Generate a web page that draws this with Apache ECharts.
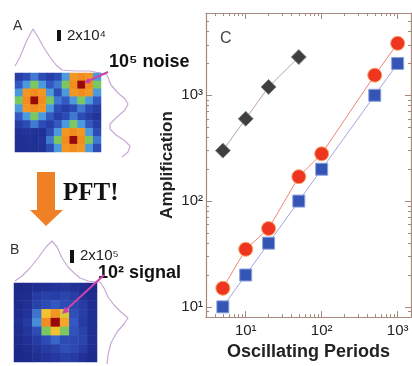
<!DOCTYPE html>
<html>
<head>
<meta charset="utf-8">
<script src="https://cdn.jsdelivr.net/npm/echarts@6/dist/echarts.min.js"></script>
<style>
html, body { margin: 0; padding: 0; background: #fff; }
#main { width: 412px; height: 366px; }
</style>
</head>
<body>
<div id="main"></div>
<script>
// panel C data
const periods = [5, 10, 20, 50, 100, 500, 1000]
const noiseAmp = [300, 600, 1200, 2300]
const redAmp = [15, 35, 55, 170, 280, 1550, 3100]
const blueAmp = [10, 20, 40, 100, 200, 1000, 2000]

const xTickValues = [10, 100, 1000]
const xTickLabels = ['10¹', '10²', '10³']
const yTickValues = [10, 100, 1000]
const yTickLabels = ['10¹', '10²', '10³']
const xMinorTicks = [4, 5, 6, 7, 8, 9, 20, 30, 40, 50, 60, 70, 80, 90, 200, 300, 400, 500, 600, 700, 800, 900]
const yMinorTicks = [9, 20, 30, 40, 50, 60, 70, 80, 90, 200, 300, 400, 500, 600, 700, 800, 900, 2000, 3000, 4000, 5000]

// panel A: 3 noise spots (rows top -> bottom)
const heatA = [
  [1.2, 1.6, 2.5, 1.6, 1.2, 1.6, 3, 7.2, 7.5, 7.2, 3],
  [2, 3, 4, 3, 2, 2.5, 4, 7.5, 9, 7.5, 4],
  [3, 7.2, 7.5, 7.2, 3, 1.6, 3, 7.2, 7.5, 7.2, 3],
  [4, 7.5, 9, 7.5, 4, 2.5, 2, 3, 4, 3, 2],
  [3, 7.2, 7.5, 7.2, 3, 1.6, 1.2, 1.6, 2.5, 1.6, 1.2],
  [2, 3, 4, 3, 2, 1.2, 1.6, 2.5, 1.6, 1.2, 0.8],
  [1.2, 1.6, 2.5, 1.6, 1.2, 2, 3, 4, 3, 2, 1.2],
  [0.6, 0.8, 0.7, 0.6, 1.6, 3, 7.2, 7.5, 7.2, 3, 1.6],
  [0.5, 0.7, 0.6, 0.8, 2.5, 4, 7.5, 9, 7.5, 4, 2.5],
  [0.5, 0.6, 0.5, 0.7, 1.6, 3, 7.2, 7.5, 7.2, 3, 1.6]
]
// panel B: single signal spot
const heatB = [
  [0.2, 0.3, 0.4, 0.6, 0.8, 0.9, 0.7, 0.4, 0.2],
  [0.3, 0.4, 1.1, 1.3, 1.2, 1.4, 1.2, 0.6, 0.3],
  [0.3, 0.6, 1.3, 1.6, 2, 1.6, 1.4, 1.1, 0.4],
  [0.4, 0.8, 2.4, 6, 7.3, 5.6, 1.7, 1.2, 0.5],
  [0.5, 1.1, 2.8, 7.5, 9, 6.8, 2, 1.1, 0.5],
  [0.4, 0.9, 1.6, 4, 6, 4, 1.8, 1.3, 0.5],
  [0.3, 0.6, 1.1, 1.6, 2.2, 1.6, 1.5, 1.4, 0.5],
  [0.2, 0.4, 0.8, 1.1, 1.3, 1.7, 1.5, 1.1, 0.4],
  [0.2, 0.3, 0.5, 0.8, 1, 1.2, 1.1, 0.6, 0.3]
]

// intensity profiles [position, intensity]
const profATop = [[0, 12], [5, 21], [12, 38], [18, 49], [23, 41], [29, 30], [35, 21], [41, 13], [47, 8], [60, 7], [75, 7], [85, 5], [92, 3]]
const profARight = [[7, 2], [11, 12], [18, 20], [25, 26], [28, 31], [25, 37], [17, 44], [10, 51], [10, 56], [16, 62], [25, 68], [30, 73], [28, 79], [22, 84]]
const profBTop = [[1, 4], [8, 9], [16, 17], [24, 27], [32, 38], [38, 44], [43, 38], [48, 27], [54, 18], [60, 12], [66, 7], [74, 4], [83, 3], [86, 3]]
const profBRight = [[3, 2], [7, 8], [11, 17], [17, 25], [24, 32], [31, 38], [27, 44], [20, 52], [14, 63], [11, 75], [10, 84]]

// jet-like colours at values 0..9
const jet = ['#1a2585', '#24389f', '#3358c2', '#4b9ade', '#7cc860', '#b8d040', '#f2c232', '#f3a024', '#ee7a1c', '#980a0a']
const frame = '#a48a7c'
const font = 'Liberation Sans, Arial, sans-serif'

function toCells (m) {
  const out = []
  m.forEach((row, r) => row.forEach((v, c) => out.push([c, r, v])))
  return out
}
function idx (n) { return Array.from({ length: n }, (_, i) => i) }

function logAxis (pos, min, max, major, minor, labels, isX) {
  const majorAxis = {
    type: 'log', gridIndex: 0, position: pos, min: min, max: max,
    axisLine: { show: true, lineStyle: { color: frame, width: 1.2 } },
    axisTick: { show: true, inside: true, length: 6, customValues: major, lineStyle: { color: frame } },
    axisLabel: { show: false },
    splitLine: { show: false }
  }
  if (labels) {
    majorAxis.axisLabel = {
      show: true, customValues: major, margin: isX ? 6 : 3,
      fontFamily: font, fontSize: 15, color: '#222',
      formatter: v => labels[major.indexOf(Math.round(v))] || ''
    }
  }
  const minorAxis = {
    type: 'log', gridIndex: 0, position: pos, min: min, max: max,
    axisLine: { show: false },
    axisTick: { show: true, inside: true, length: 3, customValues: minor, lineStyle: { color: frame } },
    axisLabel: { show: false },
    splitLine: { show: false }
  }
  return [majorAxis, minorAxis]
}

function hiddenAxis (grid, type, extra) {
  return Object.assign({
    type: type, gridIndex: grid, show: false,
    axisLine: { show: false }, axisTick: { show: false }, axisLabel: { show: false }, splitLine: { show: false }
  }, extra)
}

const xAxes = [].concat(
  logAxis('bottom', 3, 1500, xTickValues, xMinorTicks, xTickLabels, true),
  logAxis('top', 3, 1500, xTickValues, xMinorTicks, null, true)
)
xAxes[0].name = 'Oscillating Periods'
xAxes[0].nameLocation = 'middle'
xAxes[0].nameGap = 19
xAxes[0].nameTextStyle = { fontFamily: font, fontSize: 18, fontWeight: 'bold', color: '#222', verticalAlign: 'top' }

const yAxes = [].concat(
  logAxis('left', 8, 6000, yTickValues, yMinorTicks, yTickLabels, false),
  logAxis('right', 8, 6000, yTickValues, yMinorTicks, null, false)
)
yAxes[0].name = 'Amplification'
yAxes[0].nameLocation = 'middle'
yAxes[0].nameGap = 30
yAxes[0].nameTextStyle = { fontFamily: font, fontSize: 17, fontWeight: 'bold', color: '#222' }

xAxes.push(
  hiddenAxis(1, 'category', { data: idx(11) }),
  hiddenAxis(2, 'category', { data: idx(9) }),
  hiddenAxis(3, 'value', { min: 0, max: 95 }),
  hiddenAxis(4, 'value', { min: 0, max: 40 }),
  hiddenAxis(5, 'value', { min: 0, max: 90 }),
  hiddenAxis(6, 'value', { min: 0, max: 40 })
)
yAxes.push(
  hiddenAxis(1, 'category', { data: idx(10), inverse: true }),
  hiddenAxis(2, 'category', { data: idx(9), inverse: true }),
  hiddenAxis(3, 'value', { min: 0, max: 58 }),
  hiddenAxis(4, 'value', { min: 0, max: 88, inverse: true }),
  hiddenAxis(5, 'value', { min: 0, max: 50 }),
  hiddenAxis(6, 'value', { min: 0, max: 86, inverse: true })
)

function pairs (xs, ys) { return ys.map((y, i) => [xs[i], y]) }

const profileStyle = { color: '#c6aad6', width: 1.2 }
function profile (data, grid) {
  return {
    type: 'line', xAxisIndex: grid + 3, yAxisIndex: grid + 3, data: data,
    showSymbol: false, silent: true, lineStyle: profileStyle, z: 1
  }
}

const chart = echarts.init(document.getElementById('main'), null, { renderer: 'canvas' })
const option = {
  backgroundColor: '#fff',
  animation: false,
  grid: [
    { left: 206, top: 13, width: 205, height: 315 },
    { left: 15, top: 73, width: 86, height: 79 },
    { left: 14, top: 283, width: 83, height: 79 },
    { left: 15, top: 20, width: 95, height: 58 },
    { left: 100, top: 73, width: 40, height: 88 },
    { left: 14, top: 235, width: 90, height: 50 },
    { left: 97, top: 280, width: 40, height: 86 }
  ],
  xAxis: xAxes,
  yAxis: yAxes,
  visualMap: {
    type: 'continuous', show: false, min: 0, max: 9, seriesIndex: [3, 4],
    inRange: { color: jet }
  },
  series: [
    {
      name: 'noise', type: 'line', xAxisIndex: 0, yAxisIndex: 0,
      data: pairs(periods, noiseAmp), symbol: 'diamond', symbolSize: 15,
      lineStyle: { color: '#b9a2aa', width: 1 },
      itemStyle: { color: '#3f3f3f', borderColor: '#8a8a8a', borderWidth: 1 }
    },
    {
      name: 'red', type: 'line', xAxisIndex: 0, yAxisIndex: 0,
      data: pairs(periods, redAmp), symbol: 'circle', symbolSize: 14,
      lineStyle: { color: '#f28478', width: 1 },
      itemStyle: { color: '#ee3520', borderColor: '#f7a468', borderWidth: 1 }
    },
    {
      name: 'blue', type: 'line', xAxisIndex: 0, yAxisIndex: 0,
      data: pairs(periods, blueAmp), symbol: 'rect', symbolSize: 12,
      lineStyle: { color: '#a2a6e2', width: 1 },
      itemStyle: { color: '#3555b6', borderColor: '#8ca2dc', borderWidth: 1 }
    },
    { type: 'heatmap', xAxisIndex: 4, yAxisIndex: 4, data: toCells(heatA), silent: true },
    { type: 'heatmap', xAxisIndex: 5, yAxisIndex: 5, data: toCells(heatB), silent: true },
    profile(profATop, 3),
    profile(profARight, 4),
    profile(profBTop, 5),
    profile(profBRight, 6)
  ],
  graphic: [
    { type: 'text', x: 13, y: 26, z: 100, style: { text: 'A', font: '14px ' + font, fill: '#333', textVerticalAlign: 'middle' } },
    { type: 'rect', z: 100, shape: { x: 57, y: 30, width: 4, height: 11 }, style: { fill: '#111' } },
    { type: 'text', x: 67, y: 36, z: 100, style: { text: '2x10⁴', font: '15px ' + font, fill: '#222', textVerticalAlign: 'middle' } },
    { type: 'text', x: 109, y: 62, z: 100, style: { text: '10⁵ noise', font: 'bold 18px ' + font, fill: '#111', textVerticalAlign: 'middle' } },
    { type: 'line', z: 100, shape: { x1: 108, y1: 72, x2: 88, y2: 81 }, style: { stroke: '#cc44aa', lineWidth: 2 } },
    { type: 'polygon', z: 100, shape: { points: [[84, 83], [90.7, 83.2], [88.2, 77.8]] }, style: { fill: '#cc44aa' } },
    { type: 'polygon', z: 100, shape: { points: [[37, 172], [55, 172], [55, 210], [63, 210], [46, 226], [30, 210], [37, 210]] }, style: { fill: '#ef8026' } },
    { type: 'text', x: 63, y: 194, z: 100, style: { text: 'PFT!', font: 'bold 25px Liberation Serif, Times New Roman, serif', fill: '#111', textVerticalAlign: 'middle' } },
    { type: 'text', x: 10, y: 250, z: 100, style: { text: 'B', font: '14px ' + font, fill: '#333', textVerticalAlign: 'middle' } },
    { type: 'rect', z: 100, shape: { x: 70, y: 250, width: 4, height: 13 }, style: { fill: '#111' } },
    { type: 'text', x: 80, y: 256, z: 100, style: { text: '2x10⁵', font: '15px ' + font, fill: '#222', textVerticalAlign: 'middle' } },
    { type: 'text', x: 98, y: 273, z: 100, style: { text: '10² signal', font: 'bold 18px ' + font, fill: '#111', textVerticalAlign: 'middle' } },
    { type: 'line', z: 100, shape: { x1: 104, y1: 275, x2: 66, y2: 310 }, style: { stroke: '#cc44aa', lineWidth: 2 } },
    { type: 'polygon', z: 100, shape: { points: [[62, 314], [69.5, 311.8], [64.7, 306.7]] }, style: { fill: '#cc44aa' } },
    { type: 'text', x: 220, y: 39, z: 100, style: { text: 'C', font: '16px ' + font, fill: '#444', textVerticalAlign: 'middle' } }
  ]
}
chart.setOption(option)
window.addEventListener('resize', () => {
  chart.resize()
})
</script>
</body>
</html>
